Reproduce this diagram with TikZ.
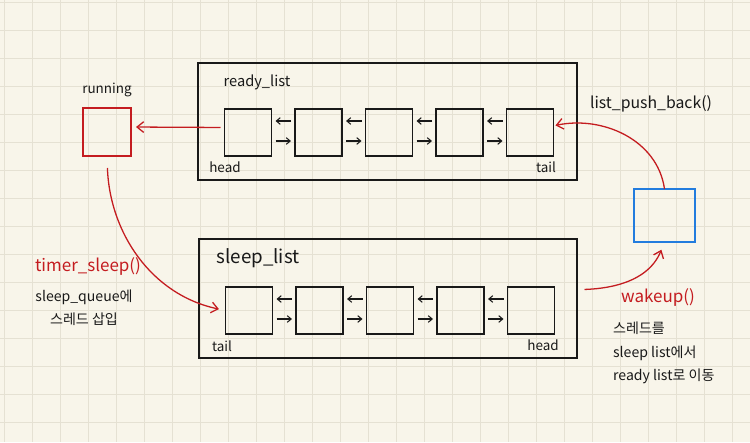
\documentclass[tikz,border=0pt]{standalone}
\usepackage{fontspec}
\setmainfont{Noto Sans CJK KR}
\usetikzlibrary{arrows.meta, positioning}
\definecolor{paper}{RGB}{248,245,234}
\definecolor{gridline}{RGB}{229,225,211}
\definecolor{penred}{RGB}{196,28,32}
\definecolor{penblue}{RGB}{34,124,222}
\definecolor{ink}{RGB}{25,25,25}

\begin{document}
\begin{tikzpicture}[x=0.03cm, y=-0.03cm,
    every node/.style={font=\fontsize{11.5}{13}\selectfont, text=ink},
    cell/.style={draw=ink, line width=1.2pt, minimum width=1.41cm, minimum height=1.41cm, inner sep=0pt, outer sep=0pt},
    frame/.style={draw=ink, line width=1.2pt, inner sep=0pt, outer sep=0pt},
    link/.style={-{Straight Barb[length=1.2mm, width=2mm]}, ink, line width=0.9pt, shorten <=0.12cm, shorten >=0.12cm},
    call/.style={-{Straight Barb[length=2mm, width=3.2mm]}, penred, line width=1.1pt},
    fn/.style={text=penred, font=\fontsize{14.5}{16}\selectfont},
    note/.style={font=\fontsize{12}{14}\selectfont, align=left}
]

% paper + grid
\path[use as bounding box, fill=paper] (0,0) rectangle (750,442);
\foreach \gx in {4,32,...,732} \draw[gridline, line width=0.5pt] (\gx,0) -- (\gx,442);
\foreach \gy in {2,30,...,422} \draw[gridline, line width=0.5pt] (0,\gy) -- (750,\gy);

% ready list
\node[frame, minimum width=11.37cm, minimum height=3.51cm] (readyframe) at (387.5,121.5) {};
\node[font=\fontsize{12.5}{14}\selectfont] (readylbl) at (257,82) {ready\_list};
\node[cell] (r1) at (248,132.5) {};
\foreach \i [remember=\i as \j (initially 1)] in {2,...,5}
    \node[cell, right=0.705cm of r\j] (r\i) {};
\foreach \i [evaluate=\i as \k using int(\i+1)] in {1,...,4} {
    \draw[link] ([yshift=0.345cm]r\k.west) -- ([yshift=0.345cm]r\i.east);
    \draw[link] ([yshift=-0.255cm]r\i.east) -- ([yshift=-0.255cm]r\k.west);
}
\node (rhead) at (225,167) {head};
\node (rtail) at (546,167) {tail};

% sleep list
\node[frame, minimum width=11.34cm, minimum height=3.57cm] (sleepframe) at (388,298.5) {};
\node[font=\fontsize{16}{18}\selectfont] (sleeplbl) at (258,258) {sleep\_list};
\node[cell] (s1) at (249,310.5) {};
\foreach \i [remember=\i as \j (initially 1)] in {2,...,5}
    \node[cell, right=0.705cm of s\j] (s\i) {};
\foreach \i [evaluate=\i as \k using int(\i+1)] in {1,...,4} {
    \draw[link] ([yshift=0.345cm]s\k.west) -- ([yshift=0.345cm]s\i.east);
    \draw[link] ([yshift=-0.255cm]s\i.east) -- ([yshift=-0.255cm]s\k.west);
}
\node (stail) at (222,346) {tail};
\node (shead) at (543,345) {head};

% running thread
\node[cell, draw=penred, minimum size=1.44cm] (run) at (107,132) {};
\node[above=0.22cm of run] (runlbl) {running};

% woken thread
\node[cell, draw=penblue, minimum width=1.83cm, minimum height=1.59cm] (woken) at (664.5,215.5) {};

% transitions
\draw[call, shorten <=0.12cm, shorten >=0.15cm] ([yshift=0.15cm]r1.west) -- ([yshift=0.15cm]run.east);
\draw[call, shorten <=0.36cm, shorten >=0.2cm] (run.south) to[out=-88, in=168] (s1.west);
\draw[call, shorten <=0.9cm, shorten >=0.25cm] ([yshift=0.6cm]s5.east) to[out=2, in=-112] (woken.south);
\draw[call, shorten >=0.06cm] (woken.north) to[out=98, in=12] ([yshift=0.2cm]r5.east);

\node[fn] (sleepfn) at (88,266) {timer\_sleep()};
\node[note, align=center] (sleepnote) at (84,308) {sleep\_queue에\\[6pt]스레드 삽입};
\node[font=\fontsize{13.5}{15}\selectfont] (pushfn) at (651,104) {list\_push\_back()};
\node[fn] (wakefn) at (658,297) {wakeup()};
\node[note, anchor=north west] (wakenote) at (609,318) {스레드를\\[6pt]sleep list에서\\[6pt]ready list로 이동};

\end{tikzpicture}
\end{document}
